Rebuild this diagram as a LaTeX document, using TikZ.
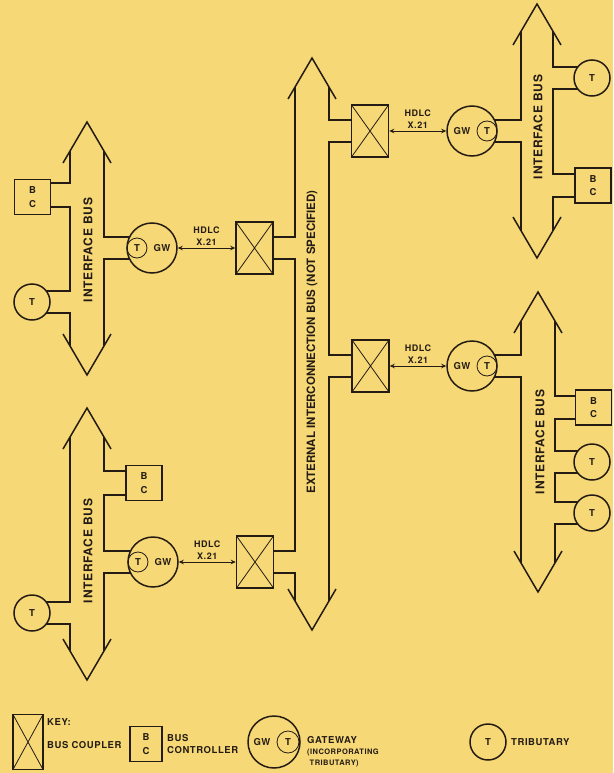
\documentclass[tikz,border=0pt]{standalone}
\usepackage{fontspec}
\setsansfont{TeX Gyre Heros}
\newfontfamily\lab[LetterSpace=6]{TeX Gyre Heros}
\usetikzlibrary{arrows.meta,calc}
\definecolor{bg}{RGB}{247,216,118}
\definecolor{ink}{RGB}{36,28,20}
\pgfdeclarelayer{bglayer}
\pgfdeclarelayer{lines}
\pgfsetlayers{bglayer,lines,main}
\begin{document}
\begin{tikzpicture}[x=1pt,y=-1pt,
  every node/.style={text=ink},
  ln/.style={draw=ink, line width=1.5pt, line join=miter},
  coupler/.style={draw=ink, line width=1.5pt, fill=bg, minimum width=37pt, minimum height=52pt, inner sep=0pt,
    path picture={\draw[ink, line width=0.8pt] (path picture bounding box.north west) -- (path picture bounding box.south east)
      (path picture bounding box.south west) -- (path picture bounding box.north east);}},
  bcbox/.style={draw=ink, line width=1.5pt, fill=bg, minimum width=36pt, minimum height=35pt, inner sep=0pt, align=center,
    font=\fontsize{9.5}{13.5}\selectfont\lab\bfseries},
  trib/.style={circle, draw=ink, line width=1.5pt, fill=bg, minimum size=36pt, inner sep=0pt,
    font=\fontsize{9.5}{10}\selectfont\lab\bfseries},
  gw/.style={circle, draw=ink, line width=1.5pt, fill=bg, minimum size=50pt, inner sep=0pt},
  inT/.style={circle, draw=ink, line width=0.8pt, minimum size=20pt, inner sep=0pt,
    font=\fontsize{9.5}{10}\selectfont\lab\bfseries},
  gwtxt/.style={inner sep=0pt, font=\fontsize{9.5}{10}\selectfont\lab\bfseries},
  hd/.style={draw=ink, line width=0.8pt, {Stealth[length=5pt,width=4.5pt]}-{Stealth[length=5pt,width=4.5pt]}},
  hdl/.style={align=center, inner sep=1pt, font=\fontsize{9}{12.5}\selectfont\lab\bfseries},
  buslab/.style={rotate=90, inner sep=0pt, font=\fontsize{12}{14}\selectfont\lab\bfseries},
  keytxt/.style={anchor=west, inner sep=0pt, font=\fontsize{9.5}{12}\selectfont\lab\bfseries, align=left},
  keysm/.style={anchor=west, inner sep=0pt, font=\fontsize{7.5}{11.5}\selectfont\lab\bfseries, align=left}
]
\begin{pgfonlayer}{bglayer}
\fill[bg] (0,0) rectangle (613,773);
\end{pgfonlayer}
\useasboundingbox (0,0) rectangle (613,773);

% ---------- couplers
\node[coupler] (c1) at (254.5,248) {};
\node[coupler] (c2) at (370,131) {};
\node[coupler] (c3) at (255,562) {};
\node[coupler] (c4) at (370.5,366) {};

% ---------- gateways
\node[gw] (gw1) at (152,248) {};
\node[inT] (gw1t) at ($(gw1.center)+(-15,0)$) {T};
\node[gwtxt] (gw1l) at ($(gw1.center)+(10,0)$) {GW};
\node[gw] (gw4) at (153,562) {};
\node[inT] (gw4t) at ($(gw4.center)+(-15,0)$) {T};
\node[gwtxt] (gw4l) at ($(gw4.center)+(10,0)$) {GW};
\node[gw] (gw2) at (472,131) {};
\node[inT] (gw2t) at ($(gw2.center)+(15,0)$) {T};
\node[gwtxt] (gw2l) at ($(gw2.center)+(-10,0)$) {GW};
\node[gw] (gw3) at (472,366) {};
\node[inT] (gw3t) at ($(gw3.center)+(15,0)$) {T};
\node[gwtxt] (gw3l) at ($(gw3.center)+(-10,0)$) {GW};

% ---------- bus controllers
\node[bcbox] (bc1) at (32.5,197) {B\\C};
\node[bcbox] (bc2) at (593,185.5) {B\\C};
\node[bcbox] (bc3) at (593.5,407.5) {B\\C};
\node[bcbox] (bc4) at (144,483) {B\\C};

% ---------- tributaries
\node[trib] (t1) at (32,302) {T};
\node[trib] (t2) at (592,78) {T};
\node[trib] (t3) at (592,462) {T};
\node[trib] (t4) at (592,513) {T};
\node[trib] (t5) at (32,613) {T};

% ---------- HDLC links
\draw[hd] (gw1) -- (c1) node[hdl, midway, above=1pt] (h1) {HDLC\\X.21};
\draw[hd] (gw4) -- (c3) node[hdl, midway, above=1pt] (h4) {HDLC\\X.21};
\draw[hd] (c2) -- (gw2) node[hdl, midway, above=1pt] (h2) {HDLC\\X.21};
\draw[hd] (c4) -- (gw3) node[hdl, midway, above=1pt] (h3) {HDLC\\X.21};

% ---------- bus labels
\node[buslab] (lb1) at (88,250) {INTERFACE BUS};
\node[buslab] (lb2) at (88,551) {INTERFACE BUS};
\node[buslab] (lb3) at (538,127) {INTERFACE BUS};
\node[buslab] (lb4) at (540,442) {INTERFACE BUS};
\node[rotate=90, inner sep=0pt, font=\fontsize{11.5}{13}\selectfont\sffamily\bfseries] (extl) at (312,342)
  {EXTERNAL INTERCONNECTION BUS (NOT SPECIFIED)};

% ---------- bus outlines
\begin{pgfonlayer}{lines}
% top-left interface bus
\draw[ln] (63,163) -- (87,122) -- (111,163);
\draw[ln] (63,334) -- (87,375) -- (111,334);
\draw[ln] (70,151) -- (70,183) -- (bc1.center |- 0,183);
\draw[ln] (bc1.center |- 0,207) -- (70,207) -- (70,291) -- (t1.center |- 0,291);
\draw[ln] (t1.center |- 0,313) -- (70,313) -- (70,346);
\draw[ln] (104,151) -- (104,237) -- (gw1.center |- 0,237);
\draw[ln] (gw1.center |- 0,259) -- (104,259) -- (104,346);
% external interconnection bus
\draw[ln] (288,99) -- (312,58) -- (336,99);
\draw[ln] (288,589) -- (312,630) -- (336,589);
\draw[ln] (295,87) -- (295,237) -- (c1.center |- 0,237);
\draw[ln] (c1.center |- 0,259) -- (295,259) -- (295,551) -- (c3.center |- 0,551);
\draw[ln] (c3.center |- 0,573) -- (295,573) -- (295,601);
\draw[ln] (329,87) -- (329,120) -- (c2.center |- 0,120);
\draw[ln] (c2.center |- 0,142) -- (329,142) -- (329,355) -- (c4.center |- 0,355);
\draw[ln] (c4.center |- 0,377) -- (329,377) -- (329,601);
% top-right interface bus
\draw[ln] (513,45) -- (537,4) -- (561,45);
\draw[ln] (513,217) -- (537,258) -- (561,217);
\draw[ln] (521,31) -- (521,120) -- (gw2.center |- 0,120);
\draw[ln] (gw2.center |- 0,142) -- (521,142) -- (521,231);
\draw[ln] (553,31) -- (553,67) -- (t2.center |- 0,67);
\draw[ln] (t2.center |- 0,89) -- (553,89) -- (553,174) -- (bc2.center |- 0,174);
\draw[ln] (bc2.center |- 0,197) -- (553,197) -- (553,231);
% bottom-right interface bus
\draw[ln] (514,333) -- (538,292) -- (562,333);
\draw[ln] (514,551) -- (538,592) -- (562,551);
\draw[ln] (521,321) -- (521,355) -- (gw3.center |- 0,355);
\draw[ln] (gw3.center |- 0,377) -- (521,377) -- (521,563);
\draw[ln] (555,321) -- (555,396) -- (bc3.center |- 0,396);
\draw[ln] (bc3.center |- 0,419) -- (555,419) -- (555,451) -- (t3.center |- 0,451);
\draw[ln] (t3.center |- 0,473) -- (555,473) -- (555,502) -- (t4.center |- 0,502);
\draw[ln] (t4.center |- 0,524) -- (555,524) -- (555,563);
% bottom-left interface bus
\draw[ln] (63,449) -- (87,408) -- (111,449);
\draw[ln] (63,639) -- (87,680) -- (111,639);
\draw[ln] (70,437) -- (70,602) -- (t5.center |- 0,602);
\draw[ln] (t5.center |- 0,624) -- (70,624) -- (70,651);
\draw[ln] (104,437) -- (104,471) -- (bc4.center |- 0,471);
\draw[ln] (bc4.center |- 0,495) -- (104,495) -- (104,551) -- (gw4.center |- 0,551);
\draw[ln] (gw4.center |- 0,573) -- (104,573) -- (104,651);
\end{pgfonlayer}

% ---------- key
\node[coupler, minimum width=30pt, minimum height=55pt] (kc) at (28,742) {};
\node[keytxt] (kk) at (47,722) {KEY:};
\node[keytxt] (kct) at (47,745) {BUS COUPLER};
\node[bcbox, minimum width=32pt] (kbc) at (146,744) {B\\C};
\node[keytxt] (kbct) at (167,744) {BUS\\CONTROLLER};
\node[gw, minimum size=52pt] (kgw) at (274,742) {};
\node[inT, minimum size=22pt] (kgwt) at ($(kgw.center)+(14,0)$) {T};
\node[gwtxt] (kgwl) at ($(kgw.center)+(-12,0)$) {GW};
\node[keytxt] (kgwa) at (307,740) {GATEWAY};
\node[keysm] (kgwb) at (307,758) {(INCORPORATING\\\ TRIBUTARY)};
\node[trib] (kt) at (488,742) {T};
\node[keytxt] (ktt) at (511,742) {TRIBUTARY};
\end{tikzpicture}
\end{document}
